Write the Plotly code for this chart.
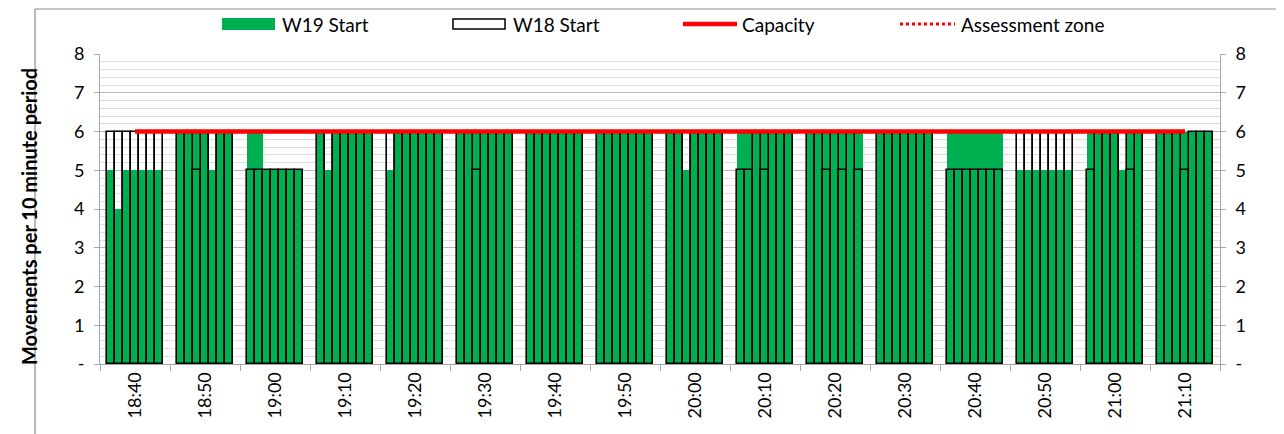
import plotly.graph_objects as go

# ---------------- data ----------------
times = ["18:40", "18:50", "19:00", "19:10", "19:20", "19:30", "19:40", "19:50",
         "20:00", "20:10", "20:20", "20:30", "20:40", "20:50", "21:00", "21:10"]

# seven rolling 10-minute counts per category (W19)
w19_start = [
    [5, 4, 5, 5, 5, 5, 5],
    [6, 6, 6, 6, 5, 6, 6],
    [6, 6, 5, 5, 5, 5, 5],
    [6, 5, 6, 6, 6, 6, 6],
    [5, 6, 6, 6, 6, 6, 6],
    [6, 6, 6, 6, 6, 6, 6],
    [6, 6, 6, 6, 6, 6, 6],
    [6, 6, 6, 6, 6, 6, 6],
    [6, 6, 5, 6, 6, 6, 6],
    [6, 6, 6, 6, 6, 6, 6],
    [6, 6, 6, 6, 6, 6, 6],
    [6, 6, 6, 6, 6, 6, 6],
    [6, 6, 6, 6, 6, 6, 6],
    [5, 5, 5, 5, 5, 5, 5],
    [6, 6, 6, 6, 5, 6, 6],
    [6, 6, 6, 6, 6, 6, 6],
]

# same for W18
w18_start = [
    [6, 6, 6, 6, 6, 6, 6],
    [6, 6, 5, 6, 6, 6, 6],
    [5, 5, 5, 5, 5, 5, 5],
    [6, 6, 6, 6, 6, 6, 6],
    [6, 6, 6, 6, 6, 6, 6],
    [6, 6, 5, 6, 6, 6, 6],
    [6, 6, 6, 6, 6, 6, 6],
    [6, 6, 6, 6, 6, 6, 6],
    [6, 6, 6, 6, 6, 6, 6],
    [5, 5, 6, 5, 6, 6, 6],
    [6, 6, 5, 6, 5, 6, 5],
    [6, 6, 6, 6, 6, 6, 6],
    [5, 5, 5, 5, 5, 5, 5],
    [6, 6, 6, 6, 6, 6, 6],
    [5, 6, 6, 6, 6, 5, 6],
    [6, 6, 6, 5, 6, 6, 6],
]

capacity = [6] * len(times)
assessment_zone = [None] * len(times)

y_tick_vals = [0, 1, 2, 3, 4, 5, 6, 7, 8]
y_tick_text = ["-", "1", "2", "3", "4", "5", "6", "7", "8"]

# ---------------- style ----------------
FONT = "Lato"
GREEN = "#00B050"
RED = "#FF0000"
AXIS_GREY = "#a6a6a6"
N_SUB = 7
BW = 0.1163
START = -N_SUB * BW / 2

OFF = 8  # page body margin
W, H = 1276, 426
ML, MR, MT, MB = 92, 64, 46, 70
PW, PH = W - ML - MR, H - MT - MB


def px(x):  # screen px -> paper
    return (x - OFF - ML) / PW


def py(y):
    return (H - MB - (y - OFF)) / PH


fig = go.Figure()

for j in range(N_SUB):
    fig.add_trace(go.Bar(
        x=times, y=[g[j] for g in w19_start],
        width=BW, offset=START + j * BW,
        marker=dict(color=GREEN, line=dict(width=0)),
        name="W19 Start", showlegend=False, yaxis="y"))

for j in range(N_SUB):
    fig.add_trace(go.Bar(
        x=times, y=[g[j] for g in w18_start],
        width=BW, offset=START + j * BW,
        marker=dict(color="rgba(0,0,0,0)", line=dict(color="black", width=1.6)),
        name="W18 Start", showlegend=False, yaxis="y"))

fig.add_trace(go.Scatter(
    x=times, y=capacity, mode="lines", name="Capacity",
    line=dict(color=RED, width=4.5), showlegend=False, yaxis="y2"))

fig.add_trace(go.Scatter(
    x=times, y=assessment_zone, mode="lines", name="Assessment zone",
    line=dict(color=RED, width=2.5, dash="dot"), showlegend=False, yaxis="y2"))

axis_y = dict(
    range=[0, 8], tickmode="array", tickvals=y_tick_vals, ticktext=y_tick_text,
    ticks="outside", ticklen=5, tickcolor=AXIS_GREY, ticklabelstandoff=6,
    showline=True, linecolor=AXIS_GREY, linewidth=1,
    zeroline=False, tickfont=dict(family=FONT, size=18, color="black"),
)

fig.update_layout(
    width=W, height=H,
    margin=dict(l=ML, r=MR, t=MT, b=MB),
    paper_bgcolor="white", plot_bgcolor="white",
    barmode="overlay", bargap=0,
    showlegend=False,
    xaxis=dict(
        type="category", tickson="boundaries", ticks="outside", ticklen=6,
        tickcolor=AXIS_GREY, showline=True, linecolor=AXIS_GREY, linewidth=1,
        showgrid=False, tickangle=-90, range=[-0.5, len(times) - 0.5],
        tickfont=dict(family=FONT, size=18, color="black"),
    ),
    yaxis=dict(
        **axis_y,
        showgrid=True, gridcolor="#b8b8b8", gridwidth=1,
        minor=dict(tickmode="linear", tick0=0, dtick=0.2, showgrid=True,
                   gridcolor="#dedede", gridwidth=1, ticks=""),
    ),
    yaxis2=dict(**axis_y, overlaying="y", side="right", showgrid=False),
)

# y-axis title
fig.add_annotation(
    text="<b>Movements per 10 minute period</b>", textangle=-90,
    x=px(15), y=py(217), xref="paper", yref="paper", showarrow=False,
    font=dict(family=FONT, size=20, color="black"))

# outer chart border (top and left visible)
fig.add_shape(type="line", xref="paper", yref="paper",
              x0=px(35), y0=py(9), x1=px(1290), y1=py(9),
              line=dict(color="#8c8c8c", width=1.2))
fig.add_shape(type="line", xref="paper", yref="paper",
              x0=px(35), y0=py(9), x1=px(35), y1=py(440),
              line=dict(color="#8c8c8c", width=1.2))

# ---------------- manual legend ----------------
LY = 24
fig.add_shape(type="rect", xref="paper", yref="paper",
              x0=px(222), x1=px(275), y0=py(LY - 6), y1=py(LY + 6),
              fillcolor=GREEN, line=dict(width=0))
fig.add_shape(type="rect", xref="paper", yref="paper",
              x0=px(453), x1=px(505), y0=py(LY - 5), y1=py(LY + 5),
              fillcolor="white", line=dict(color="black", width=1.5))
fig.add_shape(type="line", xref="paper", yref="paper",
              x0=px(683), x1=px(737), y0=py(LY), y1=py(LY),
              line=dict(color=RED, width=4.5))
fig.add_shape(type="line", xref="paper", yref="paper",
              x0=px(900), x1=px(955), y0=py(LY), y1=py(LY),
              line=dict(color=RED, width=3, dash="dot"))

for label, xpos in [("W19 Start", 280), ("W18 Start", 511),
                    ("Capacity", 740), ("Assessment zone", 959)]:
    fig.add_annotation(text=label, x=px(xpos), y=py(LY), xref="paper", yref="paper",
                       xanchor="left", yanchor="middle", showarrow=False,
                       font=dict(family=FONT, size=19, color="black"))

fig.write_html("out.html")
